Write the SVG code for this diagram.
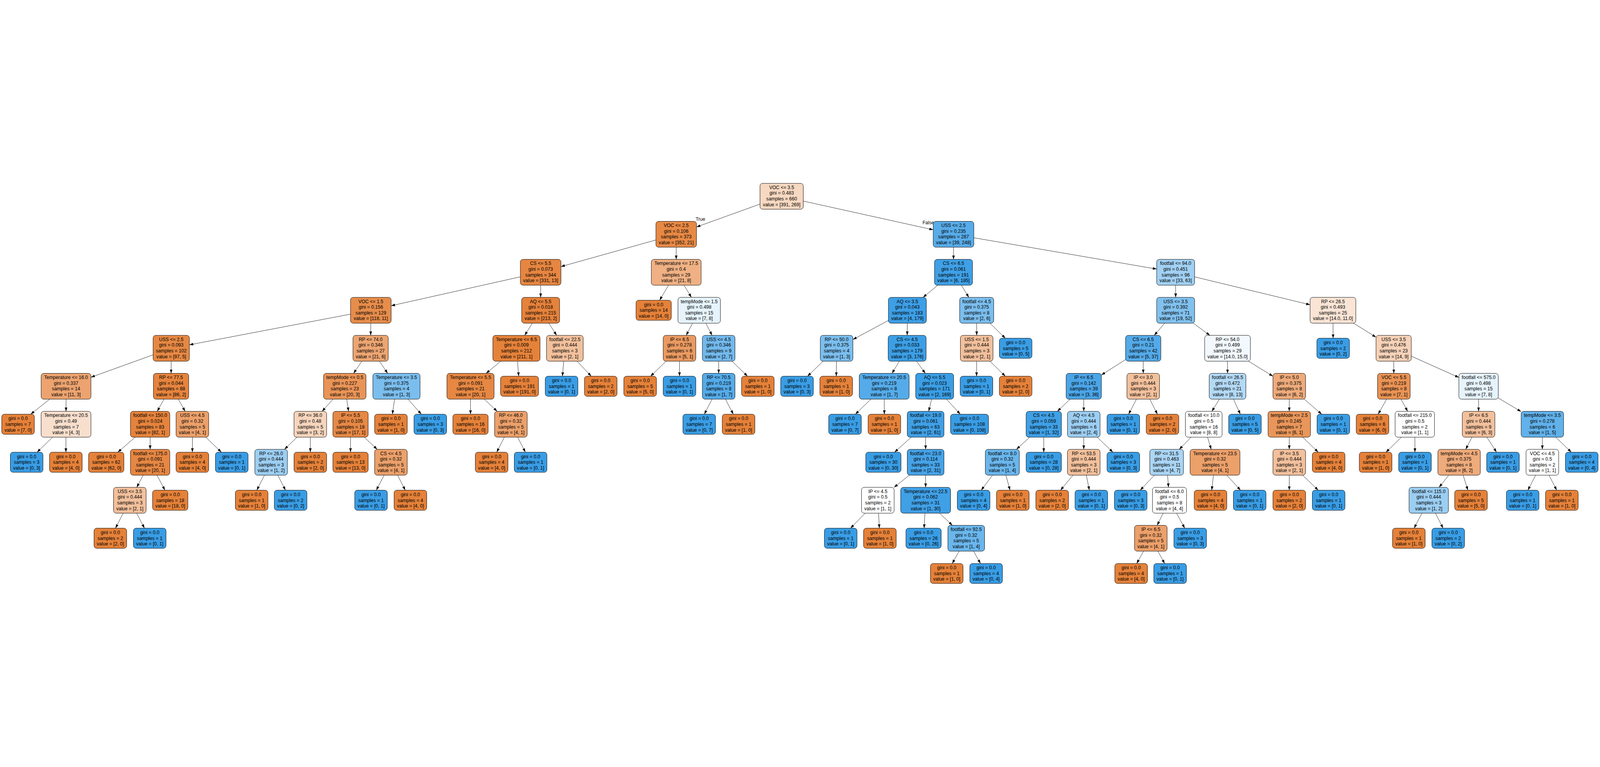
<svg xmlns="http://www.w3.org/2000/svg" width="7801" height="1963" viewBox="0 0 7801 1963">
<style>
:root{width:100vw;height:100vh}
.b{stroke:#000;stroke-width:1.8}
.t{font-family:"Liberation Sans",Arial,Helvetica,sans-serif;font-size:23px;text-anchor:middle;fill:#000}
#edges line{stroke:#000;stroke-width:1.6;marker-end:url(#ah)}
</style>
<defs>
<marker id="ah" markerUnits="userSpaceOnUse" viewBox="0 0 19 13" markerWidth="19" markerHeight="13" refX="19" refY="6.5" orient="auto"><path d="M0,0L19,6.5L0,13z" fill="#000"/></marker>
</defs>
<rect width="7801" height="1963" fill="#fff"/>
<g id="edges">
<line x1="3811" y1="69" x2="3396" y2="218.5"/>
<line x1="3811" y1="69" x2="4550" y2="232.3"/>
<line x1="3297" y1="254.2" x2="2735" y2="411.7"/>
<line x1="3297" y1="254.2" x2="3297" y2="376.4"/>
<line x1="4649" y1="254.2" x2="4649" y2="376.4"/>
<line x1="4649" y1="254.2" x2="5639.5" y2="423.6"/>
<line x1="2636" y1="439.4" x2="1907" y2="602.5"/>
<line x1="2636" y1="439.4" x2="2636" y2="561.6"/>
<line x1="3297" y1="439.4" x2="3216.1" y2="575.6"/>
<line x1="3297" y1="439.4" x2="3370.9" y2="561.6"/>
<line x1="4649" y1="439.4" x2="4500.5" y2="561.6"/>
<line x1="4649" y1="439.4" x2="4723.6" y2="561.6"/>
<line x1="5732" y1="439.4" x2="5732" y2="561.6"/>
<line x1="5732" y1="439.4" x2="6387.5" y2="597.7"/>
<line x1="1808" y1="624.6" x2="923.5" y2="793"/>
<line x1="1808" y1="624.6" x2="1807.3" y2="746.8"/>
<line x1="2636" y1="624.6" x2="2558.1" y2="746.8"/>
<line x1="2636" y1="624.6" x2="2713.9" y2="746.8"/>
<line x1="3409" y1="624.6" x2="3345.7" y2="746.8"/>
<line x1="3409" y1="624.6" x2="3471.7" y2="746.8"/>
<line x1="4424" y1="624.6" x2="4158.5" y2="767.1"/>
<line x1="4424" y1="624.6" x2="4423.3" y2="746.8"/>
<line x1="4762" y1="624.6" x2="4762" y2="746.8"/>
<line x1="4762" y1="624.6" x2="4901.7" y2="760.8"/>
<line x1="5732" y1="624.6" x2="5627.8" y2="746.8"/>
<line x1="5732" y1="624.6" x2="5898.9" y2="746.8"/>
<line x1="6499" y1="624.6" x2="6499.7" y2="760.8"/>
<line x1="6499" y1="624.6" x2="6709" y2="756"/>
<line x1="835" y1="809.8" x2="443.5" y2="951.1"/>
<line x1="835" y1="809.8" x2="834.3" y2="932"/>
<line x1="1807" y1="809.8" x2="1723.9" y2="932"/>
<line x1="1807" y1="809.8" x2="1890.1" y2="932"/>
<line x1="2518" y1="809.8" x2="2370.2" y2="932"/>
<line x1="2518" y1="809.8" x2="2529" y2="946"/>
<line x1="2754" y1="809.8" x2="2742.2" y2="946"/>
<line x1="2754" y1="809.8" x2="2882.7" y2="946"/>
<line x1="3313" y1="809.8" x2="3171.8" y2="946"/>
<line x1="3313" y1="809.8" x2="3313" y2="946"/>
<line x1="3504" y1="809.8" x2="3504" y2="932"/>
<line x1="3504" y1="809.8" x2="3644.5" y2="946"/>
<line x1="4079" y1="809.8" x2="3937.1" y2="946"/>
<line x1="4079" y1="809.8" x2="4077.5" y2="946"/>
<line x1="4423" y1="809.8" x2="4349.1" y2="932"/>
<line x1="4423" y1="809.8" x2="4511.4" y2="932"/>
<line x1="4762" y1="809.8" x2="4761.3" y2="946"/>
<line x1="4762" y1="809.8" x2="4901.7" y2="946"/>
<line x1="5574" y1="809.8" x2="5370" y2="940.1"/>
<line x1="5574" y1="809.8" x2="5574" y2="932"/>
<line x1="5985" y1="809.8" x2="5985" y2="932"/>
<line x1="5985" y1="809.8" x2="6206.5" y2="946.1"/>
<line x1="6795" y1="809.8" x2="6795.7" y2="932"/>
<line x1="6795" y1="809.8" x2="7113" y2="952.1"/>
<line x1="322" y1="995" x2="149.9" y2="1131.2"/>
<line x1="322" y1="995" x2="322" y2="1117.2"/>
<line x1="834" y1="995" x2="766.7" y2="1117.2"/>
<line x1="834" y1="995" x2="902.6" y2="1117.2"/>
<line x1="1681" y1="995" x2="1570.2" y2="1117.2"/>
<line x1="1681" y1="995" x2="1699.5" y2="1117.2"/>
<line x1="1933" y1="995" x2="1913.1" y2="1131.2"/>
<line x1="1933" y1="995" x2="2054.3" y2="1131.2"/>
<line x1="2294" y1="995" x2="2294" y2="1131.2"/>
<line x1="2294" y1="995" x2="2424" y2="1117.2"/>
<line x1="3504" y1="995" x2="3434.1" y2="1131.2"/>
<line x1="3504" y1="995" x2="3575.3" y2="1131.2"/>
<line x1="4311" y1="995" x2="4170.5" y2="1131.2"/>
<line x1="4311" y1="995" x2="4311.7" y2="1131.2"/>
<line x1="4557" y1="995" x2="4528" y2="1117.2"/>
<line x1="4557" y1="995" x2="4682" y2="1131.2"/>
<line x1="5284" y1="995" x2="5155.3" y2="1117.2"/>
<line x1="5284" y1="995" x2="5284" y2="1117.2"/>
<line x1="5574" y1="995" x2="5502.7" y2="1131.2"/>
<line x1="5574" y1="995" x2="5643.1" y2="1131.2"/>
<line x1="5985" y1="995" x2="5908.5" y2="1117.2"/>
<line x1="5985" y1="995" x2="6047.5" y2="1131.2"/>
<line x1="6286" y1="995" x2="6286" y2="1117.2"/>
<line x1="6286" y1="995" x2="6444.1" y2="1131.2"/>
<line x1="6796" y1="995" x2="6719.5" y2="1131.2"/>
<line x1="6796" y1="995" x2="6863.3" y2="1117.2"/>
<line x1="7209" y1="995" x2="7209" y2="1117.2"/>
<line x1="7209" y1="995" x2="7416.5" y2="1118.6"/>
<line x1="322" y1="1180.2" x2="180.8" y2="1316.4"/>
<line x1="322" y1="1180.2" x2="321.3" y2="1316.4"/>
<line x1="732" y1="1180.2" x2="574.6" y2="1316.4"/>
<line x1="732" y1="1180.2" x2="732" y2="1302.4"/>
<line x1="938" y1="1180.2" x2="938" y2="1316.4"/>
<line x1="938" y1="1180.2" x2="1079.2" y2="1316.4"/>
<line x1="1513" y1="1180.2" x2="1387" y2="1302.4"/>
<line x1="1513" y1="1180.2" x2="1513" y2="1316.4"/>
<line x1="1709" y1="1180.2" x2="1709" y2="1316.4"/>
<line x1="1709" y1="1180.2" x2="1839" y2="1302.4"/>
<line x1="2491" y1="1180.2" x2="2421.9" y2="1316.4"/>
<line x1="2491" y1="1180.2" x2="2561.6" y2="1316.4"/>
<line x1="4513" y1="1180.2" x2="4361.5" y2="1316.4"/>
<line x1="4513" y1="1180.2" x2="4513" y2="1302.4"/>
<line x1="5089" y1="1180.2" x2="4955.7" y2="1302.4"/>
<line x1="5089" y1="1180.2" x2="5089" y2="1316.4"/>
<line x1="5284" y1="1180.2" x2="5284" y2="1302.4"/>
<line x1="5284" y1="1180.2" x2="5425.9" y2="1316.4"/>
<line x1="5869" y1="1180.2" x2="5749.6" y2="1302.4"/>
<line x1="5869" y1="1180.2" x2="5905.3" y2="1302.4"/>
<line x1="6286" y1="1180.2" x2="6286" y2="1302.4"/>
<line x1="6286" y1="1180.2" x2="6427.2" y2="1316.4"/>
<line x1="6898" y1="1180.2" x2="6757.5" y2="1316.4"/>
<line x1="6898" y1="1180.2" x2="6898.7" y2="1316.4"/>
<line x1="7209" y1="1180.2" x2="7146.3" y2="1302.4"/>
<line x1="7209" y1="1180.2" x2="7296.5" y2="1316.4"/>
<line x1="7520" y1="1180.2" x2="7520" y2="1302.4"/>
<line x1="7520" y1="1180.2" x2="7661.2" y2="1316.4"/>
<line x1="732" y1="1365.4" x2="666.7" y2="1487.6"/>
<line x1="732" y1="1365.4" x2="804.1" y2="1501.6"/>
<line x1="1322" y1="1365.4" x2="1252.1" y2="1501.6"/>
<line x1="1322" y1="1365.4" x2="1391.9" y2="1501.6"/>
<line x1="1906" y1="1365.4" x2="1834.7" y2="1501.6"/>
<line x1="1906" y1="1365.4" x2="1975.9" y2="1501.6"/>
<line x1="4513" y1="1365.4" x2="4359.3" y2="1487.6"/>
<line x1="4513" y1="1365.4" x2="4513" y2="1487.6"/>
<line x1="4887" y1="1365.4" x2="4784" y2="1501.6"/>
<line x1="4887" y1="1365.4" x2="4924.5" y2="1501.6"/>
<line x1="5284" y1="1365.4" x2="5170.7" y2="1501.6"/>
<line x1="5284" y1="1365.4" x2="5311.2" y2="1501.6"/>
<line x1="5688" y1="1365.4" x2="5559.3" y2="1501.6"/>
<line x1="5688" y1="1365.4" x2="5697.2" y2="1487.6"/>
<line x1="5924" y1="1365.4" x2="5907.8" y2="1501.6"/>
<line x1="5924" y1="1365.4" x2="6048.3" y2="1501.6"/>
<line x1="6286" y1="1365.4" x2="6286" y2="1501.6"/>
<line x1="6286" y1="1365.4" x2="6427.2" y2="1501.6"/>
<line x1="7114" y1="1365.4" x2="7016.3" y2="1487.6"/>
<line x1="7114" y1="1365.4" x2="7156.7" y2="1501.6"/>
<line x1="7520" y1="1365.4" x2="7449.4" y2="1501.6"/>
<line x1="7520" y1="1365.4" x2="7589.9" y2="1501.6"/>
<line x1="633" y1="1550.6" x2="563.1" y2="1686.8"/>
<line x1="633" y1="1550.6" x2="704.3" y2="1686.8"/>
<line x1="4280" y1="1550.6" x2="4146.9" y2="1686.8"/>
<line x1="4280" y1="1550.6" x2="4287.4" y2="1686.8"/>
<line x1="4513" y1="1550.6" x2="4505.6" y2="1686.8"/>
<line x1="4513" y1="1550.6" x2="4643.6" y2="1672.8"/>
<line x1="5702" y1="1550.6" x2="5642" y2="1672.8"/>
<line x1="5702" y1="1550.6" x2="5776.3" y2="1686.8"/>
<line x1="6966" y1="1550.6" x2="6894.7" y2="1686.8"/>
<line x1="6966" y1="1550.6" x2="7035.9" y2="1686.8"/>
<line x1="4711" y1="1735.8" x2="4642.8" y2="1859"/>
<line x1="4711" y1="1735.8" x2="4780.6" y2="1859"/>
<line x1="5611" y1="1735.8" x2="5542.1" y2="1859"/>
<line x1="5611" y1="1735.8" x2="5678.4" y2="1859"/>
<text class="t" x="3415" y="189">True</text>
<text class="t" x="4526" y="205">False</text>
</g>
<g id="n0"><rect class="b" x="3705.5" y="6" width="211" height="126" rx="13" fill="#f7d8c1"/><text class="t" y="33.8"><tspan x="3811">VOC &lt;= 3.5</tspan><tspan x="3811" dy="27.8">gini = 0.483</tspan><tspan x="3811" dy="27.8">samples = 660</tspan><tspan x="3811" dy="27.8">value = [391, 269]</tspan></text></g>
<g id="n1"><rect class="b" x="3198" y="191.2" width="198" height="126" rx="13" fill="#e78945"/><text class="t" y="219"><tspan x="3297">VOC &lt;= 2.5</tspan><tspan x="3297" dy="27.8">gini = 0.106</tspan><tspan x="3297" dy="27.8">samples = 373</tspan><tspan x="3297" dy="27.8">value = [352, 21]</tspan></text></g>
<g id="n2"><rect class="b" x="2537" y="376.4" width="198" height="126" rx="13" fill="#e68641"/><text class="t" y="404.2"><tspan x="2636">CS &lt;= 5.5</tspan><tspan x="2636" dy="27.8">gini = 0.073</tspan><tspan x="2636" dy="27.8">samples = 344</tspan><tspan x="2636" dy="27.8">value = [331, 13]</tspan></text></g>
<g id="n3"><rect class="b" x="1709" y="561.6" width="198" height="126" rx="13" fill="#e78d4b"/><text class="t" y="589.4"><tspan x="1808">VOC &lt;= 1.5</tspan><tspan x="1808" dy="27.8">gini = 0.156</tspan><tspan x="1808" dy="27.8">samples = 129</tspan><tspan x="1808" dy="27.8">value = [118, 11]</tspan></text></g>
<g id="n4"><rect class="b" x="746.5" y="746.8" width="177" height="126" rx="13" fill="#e68843"/><text class="t" y="774.6"><tspan x="835">USS &lt;= 2.5</tspan><tspan x="835" dy="27.8">gini = 0.093</tspan><tspan x="835" dy="27.8">samples = 102</tspan><tspan x="835" dy="27.8">value = [97, 5]</tspan></text></g>
<g id="n5"><rect class="b" x="200.5" y="932" width="243" height="126" rx="13" fill="#eca36f"/><text class="t" y="959.8"><tspan x="322">Temperature &lt;= 16.0</tspan><tspan x="322" dy="27.8">gini = 0.337</tspan><tspan x="322" dy="27.8">samples = 14</tspan><tspan x="322" dy="27.8">value = [11, 3]</tspan></text></g>
<g id="n6"><rect class="b" x="8.5" y="1131.2" width="159" height="98" rx="13" fill="#e58139"/><text class="t" y="1160.4"><tspan x="88">gini = 0.0</tspan><tspan x="88" dy="27.8">samples = 7</tspan><tspan x="88" dy="27.8">value = [7, 0]</tspan></text></g>
<g id="n7"><rect class="b" x="200.5" y="1117.2" width="243" height="126" rx="13" fill="#f8dfcd"/><text class="t" y="1145"><tspan x="322">Temperature &lt;= 20.5</tspan><tspan x="322" dy="27.8">gini = 0.49</tspan><tspan x="322" dy="27.8">samples = 7</tspan><tspan x="322" dy="27.8">value = [4, 3]</tspan></text></g>
<g id="n8"><rect class="b" x="50.5" y="1316.4" width="159" height="98" rx="13" fill="#399de5"/><text class="t" y="1345.6"><tspan x="130">gini = 0.0</tspan><tspan x="130" dy="27.8">samples = 3</tspan><tspan x="130" dy="27.8">value = [0, 3]</tspan></text></g>
<g id="n9"><rect class="b" x="241.5" y="1316.4" width="159" height="98" rx="13" fill="#e58139"/><text class="t" y="1345.6"><tspan x="321">gini = 0.0</tspan><tspan x="321" dy="27.8">samples = 4</tspan><tspan x="321" dy="27.8">value = [4, 0]</tspan></text></g>
<g id="n10"><rect class="b" x="748" y="932" width="172" height="126" rx="13" fill="#e6843e"/><text class="t" y="959.8"><tspan x="834">RP &lt;= 77.5</tspan><tspan x="834" dy="27.8">gini = 0.044</tspan><tspan x="834" dy="27.8">samples = 88</tspan><tspan x="834" dy="27.8">value = [86, 2]</tspan></text></g>
<g id="n11"><rect class="b" x="636" y="1117.2" width="192" height="126" rx="13" fill="#e5833c"/><text class="t" y="1145"><tspan x="732">footfall &lt;= 150.0</tspan><tspan x="732" dy="27.8">gini = 0.024</tspan><tspan x="732" dy="27.8">samples = 83</tspan><tspan x="732" dy="27.8">value = [82, 1]</tspan></text></g>
<g id="n12"><rect class="b" x="432" y="1316.4" width="172" height="98" rx="13" fill="#e58139"/><text class="t" y="1345.6"><tspan x="518">gini = 0.0</tspan><tspan x="518" dy="27.8">samples = 62</tspan><tspan x="518" dy="27.8">value = [62, 0]</tspan></text></g>
<g id="n13"><rect class="b" x="636" y="1302.4" width="192" height="126" rx="13" fill="#e68743"/><text class="t" y="1330.2"><tspan x="732">footfall &lt;= 175.0</tspan><tspan x="732" dy="27.8">gini = 0.091</tspan><tspan x="732" dy="27.8">samples = 21</tspan><tspan x="732" dy="27.8">value = [20, 1]</tspan></text></g>
<g id="n14"><rect class="b" x="553.5" y="1487.6" width="159" height="126" rx="13" fill="#f2c09c"/><text class="t" y="1515.4"><tspan x="633">USS &lt;= 3.5</tspan><tspan x="633" dy="27.8">gini = 0.444</tspan><tspan x="633" dy="27.8">samples = 3</tspan><tspan x="633" dy="27.8">value = [2, 1]</tspan></text></g>
<g id="n15"><rect class="b" x="458.5" y="1686.8" width="159" height="98" rx="13" fill="#e58139"/><text class="t" y="1716"><tspan x="538">gini = 0.0</tspan><tspan x="538" dy="27.8">samples = 2</tspan><tspan x="538" dy="27.8">value = [2, 0]</tspan></text></g>
<g id="n16"><rect class="b" x="650.5" y="1686.8" width="159" height="98" rx="13" fill="#399de5"/><text class="t" y="1716"><tspan x="730">gini = 0.0</tspan><tspan x="730" dy="27.8">samples = 1</tspan><tspan x="730" dy="27.8">value = [0, 1]</tspan></text></g>
<g id="n17"><rect class="b" x="744" y="1501.6" width="172" height="98" rx="13" fill="#e58139"/><text class="t" y="1530.8"><tspan x="830">gini = 0.0</tspan><tspan x="830" dy="27.8">samples = 18</tspan><tspan x="830" dy="27.8">value = [18, 0]</tspan></text></g>
<g id="n18"><rect class="b" x="858.5" y="1117.2" width="159" height="126" rx="13" fill="#eca06a"/><text class="t" y="1145"><tspan x="938">USS &lt;= 4.5</tspan><tspan x="938" dy="27.8">gini = 0.32</tspan><tspan x="938" dy="27.8">samples = 5</tspan><tspan x="938" dy="27.8">value = [4, 1]</tspan></text></g>
<g id="n19"><rect class="b" x="858.5" y="1316.4" width="159" height="98" rx="13" fill="#e58139"/><text class="t" y="1345.6"><tspan x="938">gini = 0.0</tspan><tspan x="938" dy="27.8">samples = 4</tspan><tspan x="938" dy="27.8">value = [4, 0]</tspan></text></g>
<g id="n20"><rect class="b" x="1050.5" y="1316.4" width="159" height="98" rx="13" fill="#399de5"/><text class="t" y="1345.6"><tspan x="1130">gini = 0.0</tspan><tspan x="1130" dy="27.8">samples = 1</tspan><tspan x="1130" dy="27.8">value = [0, 1]</tspan></text></g>
<g id="n21"><rect class="b" x="1721" y="746.8" width="172" height="126" rx="13" fill="#eca572"/><text class="t" y="774.6"><tspan x="1807">RP &lt;= 74.0</tspan><tspan x="1807" dy="27.8">gini = 0.346</tspan><tspan x="1807" dy="27.8">samples = 27</tspan><tspan x="1807" dy="27.8">value = [21, 6]</tspan></text></g>
<g id="n22"><rect class="b" x="1577.5" y="932" width="207" height="126" rx="13" fill="#e99457"/><text class="t" y="959.8"><tspan x="1681">tempMode &lt;= 0.5</tspan><tspan x="1681" dy="27.8">gini = 0.227</tspan><tspan x="1681" dy="27.8">samples = 23</tspan><tspan x="1681" dy="27.8">value = [20, 3]</tspan></text></g>
<g id="n23"><rect class="b" x="1433.5" y="1117.2" width="159" height="126" rx="13" fill="#f6d5bd"/><text class="t" y="1145"><tspan x="1513">RP &lt;= 36.0</tspan><tspan x="1513" dy="27.8">gini = 0.48</tspan><tspan x="1513" dy="27.8">samples = 5</tspan><tspan x="1513" dy="27.8">value = [3, 2]</tspan></text></g>
<g id="n24"><rect class="b" x="1242.5" y="1302.4" width="159" height="126" rx="13" fill="#9ccef2"/><text class="t" y="1330.2"><tspan x="1322">RP &lt;= 26.0</tspan><tspan x="1322" dy="27.8">gini = 0.444</tspan><tspan x="1322" dy="27.8">samples = 3</tspan><tspan x="1322" dy="27.8">value = [1, 2]</tspan></text></g>
<g id="n25"><rect class="b" x="1147.5" y="1501.6" width="159" height="98" rx="13" fill="#e58139"/><text class="t" y="1530.8"><tspan x="1227">gini = 0.0</tspan><tspan x="1227" dy="27.8">samples = 1</tspan><tspan x="1227" dy="27.8">value = [1, 0]</tspan></text></g>
<g id="n26"><rect class="b" x="1337.5" y="1501.6" width="159" height="98" rx="13" fill="#399de5"/><text class="t" y="1530.8"><tspan x="1417">gini = 0.0</tspan><tspan x="1417" dy="27.8">samples = 2</tspan><tspan x="1417" dy="27.8">value = [0, 2]</tspan></text></g>
<g id="n27"><rect class="b" x="1433.5" y="1316.4" width="159" height="98" rx="13" fill="#e58139"/><text class="t" y="1345.6"><tspan x="1513">gini = 0.0</tspan><tspan x="1513" dy="27.8">samples = 2</tspan><tspan x="1513" dy="27.8">value = [2, 0]</tspan></text></g>
<g id="n28"><rect class="b" x="1623" y="1117.2" width="172" height="126" rx="13" fill="#e68845"/><text class="t" y="1145"><tspan x="1709">IP &lt;= 5.5</tspan><tspan x="1709" dy="27.8">gini = 0.105</tspan><tspan x="1709" dy="27.8">samples = 18</tspan><tspan x="1709" dy="27.8">value = [17, 1]</tspan></text></g>
<g id="n29"><rect class="b" x="1623" y="1316.4" width="172" height="98" rx="13" fill="#e58139"/><text class="t" y="1345.6"><tspan x="1709">gini = 0.0</tspan><tspan x="1709" dy="27.8">samples = 13</tspan><tspan x="1709" dy="27.8">value = [13, 0]</tspan></text></g>
<g id="n30"><rect class="b" x="1826.5" y="1302.4" width="159" height="126" rx="13" fill="#eca06a"/><text class="t" y="1330.2"><tspan x="1906">CS &lt;= 4.5</tspan><tspan x="1906" dy="27.8">gini = 0.32</tspan><tspan x="1906" dy="27.8">samples = 5</tspan><tspan x="1906" dy="27.8">value = [4, 1]</tspan></text></g>
<g id="n31"><rect class="b" x="1729.5" y="1501.6" width="159" height="98" rx="13" fill="#399de5"/><text class="t" y="1530.8"><tspan x="1809">gini = 0.0</tspan><tspan x="1809" dy="27.8">samples = 1</tspan><tspan x="1809" dy="27.8">value = [0, 1]</tspan></text></g>
<g id="n32"><rect class="b" x="1921.5" y="1501.6" width="159" height="98" rx="13" fill="#e58139"/><text class="t" y="1530.8"><tspan x="2001">gini = 0.0</tspan><tspan x="2001" dy="27.8">samples = 4</tspan><tspan x="2001" dy="27.8">value = [4, 0]</tspan></text></g>
<g id="n33"><rect class="b" x="1818" y="932" width="230" height="126" rx="13" fill="#7bbeee"/><text class="t" y="959.8"><tspan x="1933">Temperature &lt;= 3.5</tspan><tspan x="1933" dy="27.8">gini = 0.375</tspan><tspan x="1933" dy="27.8">samples = 4</tspan><tspan x="1933" dy="27.8">value = [1, 3]</tspan></text></g>
<g id="n34"><rect class="b" x="1826.5" y="1131.2" width="159" height="98" rx="13" fill="#e58139"/><text class="t" y="1160.4"><tspan x="1906">gini = 0.0</tspan><tspan x="1906" dy="27.8">samples = 1</tspan><tspan x="1906" dy="27.8">value = [1, 0]</tspan></text></g>
<g id="n35"><rect class="b" x="2018.5" y="1131.2" width="159" height="98" rx="13" fill="#399de5"/><text class="t" y="1160.4"><tspan x="2098">gini = 0.0</tspan><tspan x="2098" dy="27.8">samples = 3</tspan><tspan x="2098" dy="27.8">value = [0, 3]</tspan></text></g>
<g id="n36"><rect class="b" x="2543.5" y="561.6" width="185" height="126" rx="13" fill="#e5823b"/><text class="t" y="589.4"><tspan x="2636">AQ &lt;= 5.5</tspan><tspan x="2636" dy="27.8">gini = 0.018</tspan><tspan x="2636" dy="27.8">samples = 215</tspan><tspan x="2636" dy="27.8">value = [213, 2]</tspan></text></g>
<g id="n37"><rect class="b" x="2403" y="746.8" width="230" height="126" rx="13" fill="#e5823a"/><text class="t" y="774.6"><tspan x="2518">Temperature &lt;= 6.5</tspan><tspan x="2518" dy="27.8">gini = 0.009</tspan><tspan x="2518" dy="27.8">samples = 212</tspan><tspan x="2518" dy="27.8">value = [211, 1]</tspan></text></g>
<g id="n38"><rect class="b" x="2179" y="932" width="230" height="126" rx="13" fill="#e68743"/><text class="t" y="959.8"><tspan x="2294">Temperature &lt;= 5.5</tspan><tspan x="2294" dy="27.8">gini = 0.091</tspan><tspan x="2294" dy="27.8">samples = 21</tspan><tspan x="2294" dy="27.8">value = [20, 1]</tspan></text></g>
<g id="n39"><rect class="b" x="2208" y="1131.2" width="172" height="98" rx="13" fill="#e58139"/><text class="t" y="1160.4"><tspan x="2294">gini = 0.0</tspan><tspan x="2294" dy="27.8">samples = 16</tspan><tspan x="2294" dy="27.8">value = [16, 0]</tspan></text></g>
<g id="n40"><rect class="b" x="2411.5" y="1117.2" width="159" height="126" rx="13" fill="#eca06a"/><text class="t" y="1145"><tspan x="2491">RP &lt;= 46.0</tspan><tspan x="2491" dy="27.8">gini = 0.32</tspan><tspan x="2491" dy="27.8">samples = 5</tspan><tspan x="2491" dy="27.8">value = [4, 1]</tspan></text></g>
<g id="n41"><rect class="b" x="2317.5" y="1316.4" width="159" height="98" rx="13" fill="#e58139"/><text class="t" y="1345.6"><tspan x="2397">gini = 0.0</tspan><tspan x="2397" dy="27.8">samples = 4</tspan><tspan x="2397" dy="27.8">value = [4, 0]</tspan></text></g>
<g id="n42"><rect class="b" x="2507.5" y="1316.4" width="159" height="98" rx="13" fill="#399de5"/><text class="t" y="1345.6"><tspan x="2587">gini = 0.0</tspan><tspan x="2587" dy="27.8">samples = 1</tspan><tspan x="2587" dy="27.8">value = [0, 1]</tspan></text></g>
<g id="n43"><rect class="b" x="2440.5" y="946" width="185" height="98" rx="13" fill="#e58139"/><text class="t" y="975.2"><tspan x="2533">gini = 0.0</tspan><tspan x="2533" dy="27.8">samples = 191</tspan><tspan x="2533" dy="27.8">value = [191, 0]</tspan></text></g>
<g id="n44"><rect class="b" x="2664.5" y="746.8" width="179" height="126" rx="13" fill="#f2c09c"/><text class="t" y="774.6"><tspan x="2754">footfall &lt;= 22.5</tspan><tspan x="2754" dy="27.8">gini = 0.444</tspan><tspan x="2754" dy="27.8">samples = 3</tspan><tspan x="2754" dy="27.8">value = [2, 1]</tspan></text></g>
<g id="n45"><rect class="b" x="2658.5" y="946" width="159" height="98" rx="13" fill="#399de5"/><text class="t" y="975.2"><tspan x="2738">gini = 0.0</tspan><tspan x="2738" dy="27.8">samples = 1</tspan><tspan x="2738" dy="27.8">value = [0, 1]</tspan></text></g>
<g id="n46"><rect class="b" x="2849.5" y="946" width="159" height="98" rx="13" fill="#e58139"/><text class="t" y="975.2"><tspan x="2929">gini = 0.0</tspan><tspan x="2929" dy="27.8">samples = 2</tspan><tspan x="2929" dy="27.8">value = [2, 0]</tspan></text></g>
<g id="n47"><rect class="b" x="3175.5" y="376.4" width="243" height="126" rx="13" fill="#efb184"/><text class="t" y="404.2"><tspan x="3297">Temperature &lt;= 17.5</tspan><tspan x="3297" dy="27.8">gini = 0.4</tspan><tspan x="3297" dy="27.8">samples = 29</tspan><tspan x="3297" dy="27.8">value = [21, 8]</tspan></text></g>
<g id="n48"><rect class="b" x="3101" y="575.6" width="172" height="98" rx="13" fill="#e58139"/><text class="t" y="604.8"><tspan x="3187">gini = 0.0</tspan><tspan x="3187" dy="27.8">samples = 14</tspan><tspan x="3187" dy="27.8">value = [14, 0]</tspan></text></g>
<g id="n49"><rect class="b" x="3305.5" y="561.6" width="207" height="126" rx="13" fill="#e6f3fc"/><text class="t" y="589.4"><tspan x="3409">tempMode &lt;= 1.5</tspan><tspan x="3409" dy="27.8">gini = 0.498</tspan><tspan x="3409" dy="27.8">samples = 15</tspan><tspan x="3409" dy="27.8">value = [7, 8]</tspan></text></g>
<g id="n50"><rect class="b" x="3233.5" y="746.8" width="159" height="126" rx="13" fill="#ea9a61"/><text class="t" y="774.6"><tspan x="3313">IP &lt;= 6.5</tspan><tspan x="3313" dy="27.8">gini = 0.278</tspan><tspan x="3313" dy="27.8">samples = 6</tspan><tspan x="3313" dy="27.8">value = [5, 1]</tspan></text></g>
<g id="n51"><rect class="b" x="3041.5" y="946" width="159" height="98" rx="13" fill="#e58139"/><text class="t" y="975.2"><tspan x="3121">gini = 0.0</tspan><tspan x="3121" dy="27.8">samples = 5</tspan><tspan x="3121" dy="27.8">value = [5, 0]</tspan></text></g>
<g id="n52"><rect class="b" x="3233.5" y="946" width="159" height="98" rx="13" fill="#399de5"/><text class="t" y="975.2"><tspan x="3313">gini = 0.0</tspan><tspan x="3313" dy="27.8">samples = 1</tspan><tspan x="3313" dy="27.8">value = [0, 1]</tspan></text></g>
<g id="n53"><rect class="b" x="3424.5" y="746.8" width="159" height="126" rx="13" fill="#72b9ec"/><text class="t" y="774.6"><tspan x="3504">USS &lt;= 4.5</tspan><tspan x="3504" dy="27.8">gini = 0.346</tspan><tspan x="3504" dy="27.8">samples = 9</tspan><tspan x="3504" dy="27.8">value = [2, 7]</tspan></text></g>
<g id="n54"><rect class="b" x="3424.5" y="932" width="159" height="126" rx="13" fill="#55abe9"/><text class="t" y="959.8"><tspan x="3504">RP &lt;= 70.5</tspan><tspan x="3504" dy="27.8">gini = 0.219</tspan><tspan x="3504" dy="27.8">samples = 8</tspan><tspan x="3504" dy="27.8">value = [1, 7]</tspan></text></g>
<g id="n55"><rect class="b" x="3329.5" y="1131.2" width="159" height="98" rx="13" fill="#399de5"/><text class="t" y="1160.4"><tspan x="3409">gini = 0.0</tspan><tspan x="3409" dy="27.8">samples = 7</tspan><tspan x="3409" dy="27.8">value = [0, 7]</tspan></text></g>
<g id="n56"><rect class="b" x="3521.5" y="1131.2" width="159" height="98" rx="13" fill="#e58139"/><text class="t" y="1160.4"><tspan x="3601">gini = 0.0</tspan><tspan x="3601" dy="27.8">samples = 1</tspan><tspan x="3601" dy="27.8">value = [1, 0]</tspan></text></g>
<g id="n57"><rect class="b" x="3615.5" y="946" width="159" height="98" rx="13" fill="#e58139"/><text class="t" y="975.2"><tspan x="3695">gini = 0.0</tspan><tspan x="3695" dy="27.8">samples = 1</tspan><tspan x="3695" dy="27.8">value = [1, 0]</tspan></text></g>
<g id="n58"><rect class="b" x="4550" y="191.2" width="198" height="126" rx="13" fill="#58ace9"/><text class="t" y="219"><tspan x="4649">USS &lt;= 2.5</tspan><tspan x="4649" dy="27.8">gini = 0.235</tspan><tspan x="4649" dy="27.8">samples = 287</tspan><tspan x="4649" dy="27.8">value = [39, 248]</tspan></text></g>
<g id="n59"><rect class="b" x="4556.5" y="376.4" width="185" height="126" rx="13" fill="#3fa0e6"/><text class="t" y="404.2"><tspan x="4649">CS &lt;= 6.5</tspan><tspan x="4649" dy="27.8">gini = 0.061</tspan><tspan x="4649" dy="27.8">samples = 191</tspan><tspan x="4649" dy="27.8">value = [6, 185]</tspan></text></g>
<g id="n60"><rect class="b" x="4331.5" y="561.6" width="185" height="126" rx="13" fill="#3d9fe6"/><text class="t" y="589.4"><tspan x="4424">AQ &lt;= 3.5</tspan><tspan x="4424" dy="27.8">gini = 0.043</tspan><tspan x="4424" dy="27.8">samples = 183</tspan><tspan x="4424" dy="27.8">value = [4, 179]</tspan></text></g>
<g id="n61"><rect class="b" x="3999.5" y="746.8" width="159" height="126" rx="13" fill="#7bbeee"/><text class="t" y="774.6"><tspan x="4079">RP &lt;= 50.0</tspan><tspan x="4079" dy="27.8">gini = 0.375</tspan><tspan x="4079" dy="27.8">samples = 4</tspan><tspan x="4079" dy="27.8">value = [1, 3]</tspan></text></g>
<g id="n62"><rect class="b" x="3806.5" y="946" width="159" height="98" rx="13" fill="#399de5"/><text class="t" y="975.2"><tspan x="3886">gini = 0.0</tspan><tspan x="3886" dy="27.8">samples = 3</tspan><tspan x="3886" dy="27.8">value = [0, 3]</tspan></text></g>
<g id="n63"><rect class="b" x="3997.5" y="946" width="159" height="98" rx="13" fill="#e58139"/><text class="t" y="975.2"><tspan x="4077">gini = 0.0</tspan><tspan x="4077" dy="27.8">samples = 1</tspan><tspan x="4077" dy="27.8">value = [1, 0]</tspan></text></g>
<g id="n64"><rect class="b" x="4330.5" y="746.8" width="185" height="126" rx="13" fill="#3c9fe5"/><text class="t" y="774.6"><tspan x="4423">CS &lt;= 4.5</tspan><tspan x="4423" dy="27.8">gini = 0.033</tspan><tspan x="4423" dy="27.8">samples = 179</tspan><tspan x="4423" dy="27.8">value = [3, 176]</tspan></text></g>
<g id="n65"><rect class="b" x="4189.5" y="932" width="243" height="126" rx="13" fill="#55abe9"/><text class="t" y="959.8"><tspan x="4311">Temperature &lt;= 20.5</tspan><tspan x="4311" dy="27.8">gini = 0.219</tspan><tspan x="4311" dy="27.8">samples = 8</tspan><tspan x="4311" dy="27.8">value = [1, 7]</tspan></text></g>
<g id="n66"><rect class="b" x="4040.5" y="1131.2" width="159" height="98" rx="13" fill="#399de5"/><text class="t" y="1160.4"><tspan x="4120">gini = 0.0</tspan><tspan x="4120" dy="27.8">samples = 7</tspan><tspan x="4120" dy="27.8">value = [0, 7]</tspan></text></g>
<g id="n67"><rect class="b" x="4232.5" y="1131.2" width="159" height="98" rx="13" fill="#e58139"/><text class="t" y="1160.4"><tspan x="4312">gini = 0.0</tspan><tspan x="4312" dy="27.8">samples = 1</tspan><tspan x="4312" dy="27.8">value = [1, 0]</tspan></text></g>
<g id="n68"><rect class="b" x="4464.5" y="932" width="185" height="126" rx="13" fill="#3b9ee5"/><text class="t" y="959.8"><tspan x="4557">AQ &lt;= 5.5</tspan><tspan x="4557" dy="27.8">gini = 0.023</tspan><tspan x="4557" dy="27.8">samples = 171</tspan><tspan x="4557" dy="27.8">value = [2, 169]</tspan></text></g>
<g id="n69"><rect class="b" x="4423.5" y="1117.2" width="179" height="126" rx="13" fill="#40a0e6"/><text class="t" y="1145"><tspan x="4513">footfall &lt;= 19.0</tspan><tspan x="4513" dy="27.8">gini = 0.061</tspan><tspan x="4513" dy="27.8">samples = 63</tspan><tspan x="4513" dy="27.8">value = [2, 61]</tspan></text></g>
<g id="n70"><rect class="b" x="4221" y="1316.4" width="172" height="98" rx="13" fill="#399de5"/><text class="t" y="1345.6"><tspan x="4307">gini = 0.0</tspan><tspan x="4307" dy="27.8">samples = 30</tspan><tspan x="4307" dy="27.8">value = [0, 30]</tspan></text></g>
<g id="n71"><rect class="b" x="4423.5" y="1302.4" width="179" height="126" rx="13" fill="#46a3e7"/><text class="t" y="1330.2"><tspan x="4513">footfall &lt;= 23.0</tspan><tspan x="4513" dy="27.8">gini = 0.114</tspan><tspan x="4513" dy="27.8">samples = 33</tspan><tspan x="4513" dy="27.8">value = [2, 31]</tspan></text></g>
<g id="n72"><rect class="b" x="4200.5" y="1487.6" width="159" height="126" rx="13" fill="#ffffff"/><text class="t" y="1515.4"><tspan x="4280">IP &lt;= 4.5</tspan><tspan x="4280" dy="27.8">gini = 0.5</tspan><tspan x="4280" dy="27.8">samples = 2</tspan><tspan x="4280" dy="27.8">value = [1, 1]</tspan></text></g>
<g id="n73"><rect class="b" x="4019.5" y="1686.8" width="159" height="98" rx="13" fill="#399de5"/><text class="t" y="1716"><tspan x="4099">gini = 0.0</tspan><tspan x="4099" dy="27.8">samples = 1</tspan><tspan x="4099" dy="27.8">value = [0, 1]</tspan></text></g>
<g id="n74"><rect class="b" x="4210.5" y="1686.8" width="159" height="98" rx="13" fill="#e58139"/><text class="t" y="1716"><tspan x="4290">gini = 0.0</tspan><tspan x="4290" dy="27.8">samples = 1</tspan><tspan x="4290" dy="27.8">value = [1, 0]</tspan></text></g>
<g id="n75"><rect class="b" x="4391.5" y="1487.6" width="243" height="126" rx="13" fill="#40a0e6"/><text class="t" y="1515.4"><tspan x="4513">Temperature &lt;= 22.5</tspan><tspan x="4513" dy="27.8">gini = 0.062</tspan><tspan x="4513" dy="27.8">samples = 31</tspan><tspan x="4513" dy="27.8">value = [1, 30]</tspan></text></g>
<g id="n76"><rect class="b" x="4417" y="1686.8" width="172" height="98" rx="13" fill="#399de5"/><text class="t" y="1716"><tspan x="4503">gini = 0.0</tspan><tspan x="4503" dy="27.8">samples = 26</tspan><tspan x="4503" dy="27.8">value = [0, 26]</tspan></text></g>
<g id="n77"><rect class="b" x="4621.5" y="1672.8" width="179" height="126" rx="13" fill="#6ab6ec"/><text class="t" y="1700.6"><tspan x="4711">footfall &lt;= 92.5</tspan><tspan x="4711" dy="27.8">gini = 0.32</tspan><tspan x="4711" dy="27.8">samples = 5</tspan><tspan x="4711" dy="27.8">value = [1, 4]</tspan></text></g>
<g id="n78"><rect class="b" x="4536.5" y="1859" width="159" height="97" rx="13" fill="#e58139"/><text class="t" y="1887.7"><tspan x="4616">gini = 0.0</tspan><tspan x="4616" dy="27.8">samples = 1</tspan><tspan x="4616" dy="27.8">value = [1, 0]</tspan></text></g>
<g id="n79"><rect class="b" x="4728.5" y="1859" width="159" height="97" rx="13" fill="#399de5"/><text class="t" y="1887.7"><tspan x="4808">gini = 0.0</tspan><tspan x="4808" dy="27.8">samples = 4</tspan><tspan x="4808" dy="27.8">value = [0, 4]</tspan></text></g>
<g id="n80"><rect class="b" x="4634.5" y="1131.2" width="185" height="98" rx="13" fill="#399de5"/><text class="t" y="1160.4"><tspan x="4727">gini = 0.0</tspan><tspan x="4727" dy="27.8">samples = 108</tspan><tspan x="4727" dy="27.8">value = [0, 108]</tspan></text></g>
<g id="n81"><rect class="b" x="4679" y="561.6" width="166" height="126" rx="13" fill="#7bbeee"/><text class="t" y="589.4"><tspan x="4762">footfall &lt;= 4.5</tspan><tspan x="4762" dy="27.8">gini = 0.375</tspan><tspan x="4762" dy="27.8">samples = 8</tspan><tspan x="4762" dy="27.8">value = [2, 6]</tspan></text></g>
<g id="n82"><rect class="b" x="4682.5" y="746.8" width="159" height="126" rx="13" fill="#f2c09c"/><text class="t" y="774.6"><tspan x="4762">USS &lt;= 1.5</tspan><tspan x="4762" dy="27.8">gini = 0.444</tspan><tspan x="4762" dy="27.8">samples = 3</tspan><tspan x="4762" dy="27.8">value = [2, 1]</tspan></text></g>
<g id="n83"><rect class="b" x="4681.5" y="946" width="159" height="98" rx="13" fill="#399de5"/><text class="t" y="975.2"><tspan x="4761">gini = 0.0</tspan><tspan x="4761" dy="27.8">samples = 1</tspan><tspan x="4761" dy="27.8">value = [0, 1]</tspan></text></g>
<g id="n84"><rect class="b" x="4872.5" y="946" width="159" height="98" rx="13" fill="#e58139"/><text class="t" y="975.2"><tspan x="4952">gini = 0.0</tspan><tspan x="4952" dy="27.8">samples = 2</tspan><tspan x="4952" dy="27.8">value = [2, 0]</tspan></text></g>
<g id="n85"><rect class="b" x="4872.5" y="760.8" width="159" height="98" rx="13" fill="#399de5"/><text class="t" y="790"><tspan x="4952">gini = 0.0</tspan><tspan x="4952" dy="27.8">samples = 5</tspan><tspan x="4952" dy="27.8">value = [0, 5]</tspan></text></g>
<g id="n86"><rect class="b" x="5639.5" y="376.4" width="185" height="126" rx="13" fill="#a1d0f3"/><text class="t" y="404.2"><tspan x="5732">footfall &lt;= 94.0</tspan><tspan x="5732" dy="27.8">gini = 0.451</tspan><tspan x="5732" dy="27.8">samples = 96</tspan><tspan x="5732" dy="27.8">value = [33, 63]</tspan></text></g>
<g id="n87"><rect class="b" x="5639.5" y="561.6" width="185" height="126" rx="13" fill="#81c1ee"/><text class="t" y="589.4"><tspan x="5732">USS &lt;= 3.5</tspan><tspan x="5732" dy="27.8">gini = 0.392</tspan><tspan x="5732" dy="27.8">samples = 71</tspan><tspan x="5732" dy="27.8">value = [19, 52]</tspan></text></g>
<g id="n88"><rect class="b" x="5488" y="746.8" width="172" height="126" rx="13" fill="#54aae8"/><text class="t" y="774.6"><tspan x="5574">CS &lt;= 6.5</tspan><tspan x="5574" dy="27.8">gini = 0.21</tspan><tspan x="5574" dy="27.8">samples = 42</tspan><tspan x="5574" dy="27.8">value = [5, 37]</tspan></text></g>
<g id="n89"><rect class="b" x="5198" y="932" width="172" height="126" rx="13" fill="#4aa5e7"/><text class="t" y="959.8"><tspan x="5284">IP &lt;= 6.5</tspan><tspan x="5284" dy="27.8">gini = 0.142</tspan><tspan x="5284" dy="27.8">samples = 39</tspan><tspan x="5284" dy="27.8">value = [3, 36]</tspan></text></g>
<g id="n90"><rect class="b" x="5003" y="1117.2" width="172" height="126" rx="13" fill="#3fa0e6"/><text class="t" y="1145"><tspan x="5089">CS &lt;= 4.5</tspan><tspan x="5089" dy="27.8">gini = 0.059</tspan><tspan x="5089" dy="27.8">samples = 33</tspan><tspan x="5089" dy="27.8">value = [1, 32]</tspan></text></g>
<g id="n91"><rect class="b" x="4804" y="1302.4" width="166" height="126" rx="13" fill="#6ab6ec"/><text class="t" y="1330.2"><tspan x="4887">footfall &lt;= 8.0</tspan><tspan x="4887" dy="27.8">gini = 0.32</tspan><tspan x="4887" dy="27.8">samples = 5</tspan><tspan x="4887" dy="27.8">value = [1, 4]</tspan></text></g>
<g id="n92"><rect class="b" x="4667.5" y="1501.6" width="159" height="98" rx="13" fill="#399de5"/><text class="t" y="1530.8"><tspan x="4747">gini = 0.0</tspan><tspan x="4747" dy="27.8">samples = 4</tspan><tspan x="4747" dy="27.8">value = [0, 4]</tspan></text></g>
<g id="n93"><rect class="b" x="4858.5" y="1501.6" width="159" height="98" rx="13" fill="#e58139"/><text class="t" y="1530.8"><tspan x="4938">gini = 0.0</tspan><tspan x="4938" dy="27.8">samples = 1</tspan><tspan x="4938" dy="27.8">value = [1, 0]</tspan></text></g>
<g id="n94"><rect class="b" x="5003" y="1316.4" width="172" height="98" rx="13" fill="#399de5"/><text class="t" y="1345.6"><tspan x="5089">gini = 0.0</tspan><tspan x="5089" dy="27.8">samples = 28</tspan><tspan x="5089" dy="27.8">value = [0, 28]</tspan></text></g>
<g id="n95"><rect class="b" x="5204.5" y="1117.2" width="159" height="126" rx="13" fill="#9ccef2"/><text class="t" y="1145"><tspan x="5284">AQ &lt;= 4.5</tspan><tspan x="5284" dy="27.8">gini = 0.444</tspan><tspan x="5284" dy="27.8">samples = 6</tspan><tspan x="5284" dy="27.8">value = [2, 4]</tspan></text></g>
<g id="n96"><rect class="b" x="5204.5" y="1302.4" width="159" height="126" rx="13" fill="#f2c09c"/><text class="t" y="1330.2"><tspan x="5284">RP &lt;= 53.5</tspan><tspan x="5284" dy="27.8">gini = 0.444</tspan><tspan x="5284" dy="27.8">samples = 3</tspan><tspan x="5284" dy="27.8">value = [2, 1]</tspan></text></g>
<g id="n97"><rect class="b" x="5050.5" y="1501.6" width="159" height="98" rx="13" fill="#e58139"/><text class="t" y="1530.8"><tspan x="5130">gini = 0.0</tspan><tspan x="5130" dy="27.8">samples = 2</tspan><tspan x="5130" dy="27.8">value = [2, 0]</tspan></text></g>
<g id="n98"><rect class="b" x="5241.5" y="1501.6" width="159" height="98" rx="13" fill="#399de5"/><text class="t" y="1530.8"><tspan x="5321">gini = 0.0</tspan><tspan x="5321" dy="27.8">samples = 1</tspan><tspan x="5321" dy="27.8">value = [0, 1]</tspan></text></g>
<g id="n99"><rect class="b" x="5397.5" y="1316.4" width="159" height="98" rx="13" fill="#399de5"/><text class="t" y="1345.6"><tspan x="5477">gini = 0.0</tspan><tspan x="5477" dy="27.8">samples = 3</tspan><tspan x="5477" dy="27.8">value = [0, 3]</tspan></text></g>
<g id="n100"><rect class="b" x="5494.5" y="932" width="159" height="126" rx="13" fill="#f2c09c"/><text class="t" y="959.8"><tspan x="5574">IP &lt;= 3.0</tspan><tspan x="5574" dy="27.8">gini = 0.444</tspan><tspan x="5574" dy="27.8">samples = 3</tspan><tspan x="5574" dy="27.8">value = [2, 1]</tspan></text></g>
<g id="n101"><rect class="b" x="5397.5" y="1131.2" width="159" height="98" rx="13" fill="#399de5"/><text class="t" y="1160.4"><tspan x="5477">gini = 0.0</tspan><tspan x="5477" dy="27.8">samples = 1</tspan><tspan x="5477" dy="27.8">value = [0, 1]</tspan></text></g>
<g id="n102"><rect class="b" x="5588.5" y="1131.2" width="159" height="98" rx="13" fill="#e58139"/><text class="t" y="1160.4"><tspan x="5668">gini = 0.0</tspan><tspan x="5668" dy="27.8">samples = 2</tspan><tspan x="5668" dy="27.8">value = [2, 0]</tspan></text></g>
<g id="n103"><rect class="b" x="5873.5" y="746.8" width="223" height="126" rx="13" fill="#f2f8fd"/><text class="t" y="774.6"><tspan x="5985">RP &lt;= 54.0</tspan><tspan x="5985" dy="27.8">gini = 0.499</tspan><tspan x="5985" dy="27.8">samples = 29</tspan><tspan x="5985" dy="27.8">value = [14.0, 15.0]</tspan></text></g>
<g id="n104"><rect class="b" x="5895.5" y="932" width="179" height="126" rx="13" fill="#b3d9f5"/><text class="t" y="959.8"><tspan x="5985">footfall &lt;= 26.5</tspan><tspan x="5985" dy="27.8">gini = 0.472</tspan><tspan x="5985" dy="27.8">samples = 21</tspan><tspan x="5985" dy="27.8">value = [8, 13]</tspan></text></g>
<g id="n105"><rect class="b" x="5779.5" y="1117.2" width="179" height="126" rx="13" fill="#ffffff"/><text class="t" y="1145"><tspan x="5869">footfall &lt;= 10.0</tspan><tspan x="5869" dy="27.8">gini = 0.5</tspan><tspan x="5869" dy="27.8">samples = 16</tspan><tspan x="5869" dy="27.8">value = [8, 8]</tspan></text></g>
<g id="n106"><rect class="b" x="5606" y="1302.4" width="164" height="126" rx="13" fill="#aad5f4"/><text class="t" y="1330.2"><tspan x="5688">RP &lt;= 31.5</tspan><tspan x="5688" dy="27.8">gini = 0.463</tspan><tspan x="5688" dy="27.8">samples = 11</tspan><tspan x="5688" dy="27.8">value = [4, 7]</tspan></text></g>
<g id="n107"><rect class="b" x="5433.5" y="1501.6" width="159" height="98" rx="13" fill="#399de5"/><text class="t" y="1530.8"><tspan x="5513">gini = 0.0</tspan><tspan x="5513" dy="27.8">samples = 3</tspan><tspan x="5513" dy="27.8">value = [0, 3]</tspan></text></g>
<g id="n108"><rect class="b" x="5619" y="1487.6" width="166" height="126" rx="13" fill="#ffffff"/><text class="t" y="1515.4"><tspan x="5702">footfall &lt;= 6.0</tspan><tspan x="5702" dy="27.8">gini = 0.5</tspan><tspan x="5702" dy="27.8">samples = 8</tspan><tspan x="5702" dy="27.8">value = [4, 4]</tspan></text></g>
<g id="n109"><rect class="b" x="5531.5" y="1672.8" width="159" height="126" rx="13" fill="#eca06a"/><text class="t" y="1700.6"><tspan x="5611">IP &lt;= 6.5</tspan><tspan x="5611" dy="27.8">gini = 0.32</tspan><tspan x="5611" dy="27.8">samples = 5</tspan><tspan x="5611" dy="27.8">value = [4, 1]</tspan></text></g>
<g id="n110"><rect class="b" x="5435.5" y="1859" width="159" height="97" rx="13" fill="#e58139"/><text class="t" y="1887.7"><tspan x="5515">gini = 0.0</tspan><tspan x="5515" dy="27.8">samples = 4</tspan><tspan x="5515" dy="27.8">value = [4, 0]</tspan></text></g>
<g id="n111"><rect class="b" x="5625.5" y="1859" width="159" height="97" rx="13" fill="#399de5"/><text class="t" y="1887.7"><tspan x="5705">gini = 0.0</tspan><tspan x="5705" dy="27.8">samples = 1</tspan><tspan x="5705" dy="27.8">value = [0, 1]</tspan></text></g>
<g id="n112"><rect class="b" x="5723.5" y="1686.8" width="159" height="98" rx="13" fill="#399de5"/><text class="t" y="1716"><tspan x="5803">gini = 0.0</tspan><tspan x="5803" dy="27.8">samples = 3</tspan><tspan x="5803" dy="27.8">value = [0, 3]</tspan></text></g>
<g id="n113"><rect class="b" x="5802.5" y="1302.4" width="243" height="126" rx="13" fill="#eca06a"/><text class="t" y="1330.2"><tspan x="5924">Temperature &lt;= 23.5</tspan><tspan x="5924" dy="27.8">gini = 0.32</tspan><tspan x="5924" dy="27.8">samples = 5</tspan><tspan x="5924" dy="27.8">value = [4, 1]</tspan></text></g>
<g id="n114"><rect class="b" x="5822.5" y="1501.6" width="159" height="98" rx="13" fill="#e58139"/><text class="t" y="1530.8"><tspan x="5902">gini = 0.0</tspan><tspan x="5902" dy="27.8">samples = 4</tspan><tspan x="5902" dy="27.8">value = [4, 0]</tspan></text></g>
<g id="n115"><rect class="b" x="6013.5" y="1501.6" width="159" height="98" rx="13" fill="#399de5"/><text class="t" y="1530.8"><tspan x="6093">gini = 0.0</tspan><tspan x="6093" dy="27.8">samples = 1</tspan><tspan x="6093" dy="27.8">value = [0, 1]</tspan></text></g>
<g id="n116"><rect class="b" x="5990.5" y="1131.2" width="159" height="98" rx="13" fill="#399de5"/><text class="t" y="1160.4"><tspan x="6070">gini = 0.0</tspan><tspan x="6070" dy="27.8">samples = 5</tspan><tspan x="6070" dy="27.8">value = [0, 5]</tspan></text></g>
<g id="n117"><rect class="b" x="6206.5" y="932" width="159" height="126" rx="13" fill="#eeab7b"/><text class="t" y="959.8"><tspan x="6286">IP &lt;= 5.0</tspan><tspan x="6286" dy="27.8">gini = 0.375</tspan><tspan x="6286" dy="27.8">samples = 8</tspan><tspan x="6286" dy="27.8">value = [6, 2]</tspan></text></g>
<g id="n118"><rect class="b" x="6182.5" y="1117.2" width="207" height="126" rx="13" fill="#e9965a"/><text class="t" y="1145"><tspan x="6286">tempMode &lt;= 2.5</tspan><tspan x="6286" dy="27.8">gini = 0.245</tspan><tspan x="6286" dy="27.8">samples = 7</tspan><tspan x="6286" dy="27.8">value = [6, 1]</tspan></text></g>
<g id="n119"><rect class="b" x="6206.5" y="1302.4" width="159" height="126" rx="13" fill="#f2c09c"/><text class="t" y="1330.2"><tspan x="6286">IP &lt;= 3.5</tspan><tspan x="6286" dy="27.8">gini = 0.444</tspan><tspan x="6286" dy="27.8">samples = 3</tspan><tspan x="6286" dy="27.8">value = [2, 1]</tspan></text></g>
<g id="n120"><rect class="b" x="6206.5" y="1501.6" width="159" height="98" rx="13" fill="#e58139"/><text class="t" y="1530.8"><tspan x="6286">gini = 0.0</tspan><tspan x="6286" dy="27.8">samples = 2</tspan><tspan x="6286" dy="27.8">value = [2, 0]</tspan></text></g>
<g id="n121"><rect class="b" x="6398.5" y="1501.6" width="159" height="98" rx="13" fill="#399de5"/><text class="t" y="1530.8"><tspan x="6478">gini = 0.0</tspan><tspan x="6478" dy="27.8">samples = 1</tspan><tspan x="6478" dy="27.8">value = [0, 1]</tspan></text></g>
<g id="n122"><rect class="b" x="6398.5" y="1316.4" width="159" height="98" rx="13" fill="#e58139"/><text class="t" y="1345.6"><tspan x="6478">gini = 0.0</tspan><tspan x="6478" dy="27.8">samples = 4</tspan><tspan x="6478" dy="27.8">value = [4, 0]</tspan></text></g>
<g id="n123"><rect class="b" x="6421.5" y="1131.2" width="159" height="98" rx="13" fill="#399de5"/><text class="t" y="1160.4"><tspan x="6501">gini = 0.0</tspan><tspan x="6501" dy="27.8">samples = 1</tspan><tspan x="6501" dy="27.8">value = [0, 1]</tspan></text></g>
<g id="n124"><rect class="b" x="6387.5" y="561.6" width="223" height="126" rx="13" fill="#f9e4d5"/><text class="t" y="589.4"><tspan x="6499">RP &lt;= 26.5</tspan><tspan x="6499" dy="27.8">gini = 0.493</tspan><tspan x="6499" dy="27.8">samples = 25</tspan><tspan x="6499" dy="27.8">value = [14.0, 11.0]</tspan></text></g>
<g id="n125"><rect class="b" x="6420.5" y="760.8" width="159" height="98" rx="13" fill="#399de5"/><text class="t" y="790"><tspan x="6500">gini = 0.0</tspan><tspan x="6500" dy="27.8">samples = 2</tspan><tspan x="6500" dy="27.8">value = [0, 2]</tspan></text></g>
<g id="n126"><rect class="b" x="6709" y="746.8" width="172" height="126" rx="13" fill="#f6d2b8"/><text class="t" y="774.6"><tspan x="6795">USS &lt;= 3.5</tspan><tspan x="6795" dy="27.8">gini = 0.476</tspan><tspan x="6795" dy="27.8">samples = 23</tspan><tspan x="6795" dy="27.8">value = [14, 9]</tspan></text></g>
<g id="n127"><rect class="b" x="6716.5" y="932" width="159" height="126" rx="13" fill="#e99355"/><text class="t" y="959.8"><tspan x="6796">VOC &lt;= 5.5</tspan><tspan x="6796" dy="27.8">gini = 0.219</tspan><tspan x="6796" dy="27.8">samples = 8</tspan><tspan x="6796" dy="27.8">value = [7, 1]</tspan></text></g>
<g id="n128"><rect class="b" x="6612.5" y="1131.2" width="159" height="98" rx="13" fill="#e58139"/><text class="t" y="1160.4"><tspan x="6692">gini = 0.0</tspan><tspan x="6692" dy="27.8">samples = 6</tspan><tspan x="6692" dy="27.8">value = [6, 0]</tspan></text></g>
<g id="n129"><rect class="b" x="6802" y="1117.2" width="192" height="126" rx="13" fill="#ffffff"/><text class="t" y="1145"><tspan x="6898">footfall &lt;= 215.0</tspan><tspan x="6898" dy="27.8">gini = 0.5</tspan><tspan x="6898" dy="27.8">samples = 2</tspan><tspan x="6898" dy="27.8">value = [1, 1]</tspan></text></g>
<g id="n130"><rect class="b" x="6627.5" y="1316.4" width="159" height="98" rx="13" fill="#e58139"/><text class="t" y="1345.6"><tspan x="6707">gini = 0.0</tspan><tspan x="6707" dy="27.8">samples = 1</tspan><tspan x="6707" dy="27.8">value = [1, 0]</tspan></text></g>
<g id="n131"><rect class="b" x="6819.5" y="1316.4" width="159" height="98" rx="13" fill="#399de5"/><text class="t" y="1345.6"><tspan x="6899">gini = 0.0</tspan><tspan x="6899" dy="27.8">samples = 1</tspan><tspan x="6899" dy="27.8">value = [0, 1]</tspan></text></g>
<g id="n132"><rect class="b" x="7113" y="932" width="192" height="126" rx="13" fill="#e6f3fc"/><text class="t" y="959.8"><tspan x="7209">footfall &lt;= 575.0</tspan><tspan x="7209" dy="27.8">gini = 0.498</tspan><tspan x="7209" dy="27.8">samples = 15</tspan><tspan x="7209" dy="27.8">value = [7, 8]</tspan></text></g>
<g id="n133"><rect class="b" x="7129.5" y="1117.2" width="159" height="126" rx="13" fill="#f2c09c"/><text class="t" y="1145"><tspan x="7209">IP &lt;= 6.5</tspan><tspan x="7209" dy="27.8">gini = 0.444</tspan><tspan x="7209" dy="27.8">samples = 9</tspan><tspan x="7209" dy="27.8">value = [6, 3]</tspan></text></g>
<g id="n134"><rect class="b" x="7010.5" y="1302.4" width="207" height="126" rx="13" fill="#eeab7b"/><text class="t" y="1330.2"><tspan x="7114">tempMode &lt;= 4.5</tspan><tspan x="7114" dy="27.8">gini = 0.375</tspan><tspan x="7114" dy="27.8">samples = 8</tspan><tspan x="7114" dy="27.8">value = [6, 2]</tspan></text></g>
<g id="n135"><rect class="b" x="6870" y="1487.6" width="192" height="126" rx="13" fill="#9ccef2"/><text class="t" y="1515.4"><tspan x="6966">footfall &lt;= 115.0</tspan><tspan x="6966" dy="27.8">gini = 0.444</tspan><tspan x="6966" dy="27.8">samples = 3</tspan><tspan x="6966" dy="27.8">value = [1, 2]</tspan></text></g>
<g id="n136"><rect class="b" x="6789.5" y="1686.8" width="159" height="98" rx="13" fill="#e58139"/><text class="t" y="1716"><tspan x="6869">gini = 0.0</tspan><tspan x="6869" dy="27.8">samples = 1</tspan><tspan x="6869" dy="27.8">value = [1, 0]</tspan></text></g>
<g id="n137"><rect class="b" x="6981.5" y="1686.8" width="159" height="98" rx="13" fill="#399de5"/><text class="t" y="1716"><tspan x="7061">gini = 0.0</tspan><tspan x="7061" dy="27.8">samples = 2</tspan><tspan x="7061" dy="27.8">value = [0, 2]</tspan></text></g>
<g id="n138"><rect class="b" x="7092.5" y="1501.6" width="159" height="98" rx="13" fill="#e58139"/><text class="t" y="1530.8"><tspan x="7172">gini = 0.0</tspan><tspan x="7172" dy="27.8">samples = 5</tspan><tspan x="7172" dy="27.8">value = [5, 0]</tspan></text></g>
<g id="n139"><rect class="b" x="7248.5" y="1316.4" width="159" height="98" rx="13" fill="#399de5"/><text class="t" y="1345.6"><tspan x="7328">gini = 0.0</tspan><tspan x="7328" dy="27.8">samples = 1</tspan><tspan x="7328" dy="27.8">value = [0, 1]</tspan></text></g>
<g id="n140"><rect class="b" x="7416.5" y="1117.2" width="207" height="126" rx="13" fill="#61b1ea"/><text class="t" y="1145"><tspan x="7520">tempMode &lt;= 3.5</tspan><tspan x="7520" dy="27.8">gini = 0.278</tspan><tspan x="7520" dy="27.8">samples = 6</tspan><tspan x="7520" dy="27.8">value = [1, 5]</tspan></text></g>
<g id="n141"><rect class="b" x="7440.5" y="1302.4" width="159" height="126" rx="13" fill="#ffffff"/><text class="t" y="1330.2"><tspan x="7520">VOC &lt;= 4.5</tspan><tspan x="7520" dy="27.8">gini = 0.5</tspan><tspan x="7520" dy="27.8">samples = 2</tspan><tspan x="7520" dy="27.8">value = [1, 1]</tspan></text></g>
<g id="n142"><rect class="b" x="7344.5" y="1501.6" width="159" height="98" rx="13" fill="#399de5"/><text class="t" y="1530.8"><tspan x="7424">gini = 0.0</tspan><tspan x="7424" dy="27.8">samples = 1</tspan><tspan x="7424" dy="27.8">value = [0, 1]</tspan></text></g>
<g id="n143"><rect class="b" x="7535.5" y="1501.6" width="159" height="98" rx="13" fill="#e58139"/><text class="t" y="1530.8"><tspan x="7615">gini = 0.0</tspan><tspan x="7615" dy="27.8">samples = 1</tspan><tspan x="7615" dy="27.8">value = [1, 0]</tspan></text></g>
<g id="n144"><rect class="b" x="7632.5" y="1316.4" width="159" height="98" rx="13" fill="#399de5"/><text class="t" y="1345.6"><tspan x="7712">gini = 0.0</tspan><tspan x="7712" dy="27.8">samples = 4</tspan><tspan x="7712" dy="27.8">value = [0, 4]</tspan></text></g>
</svg>
